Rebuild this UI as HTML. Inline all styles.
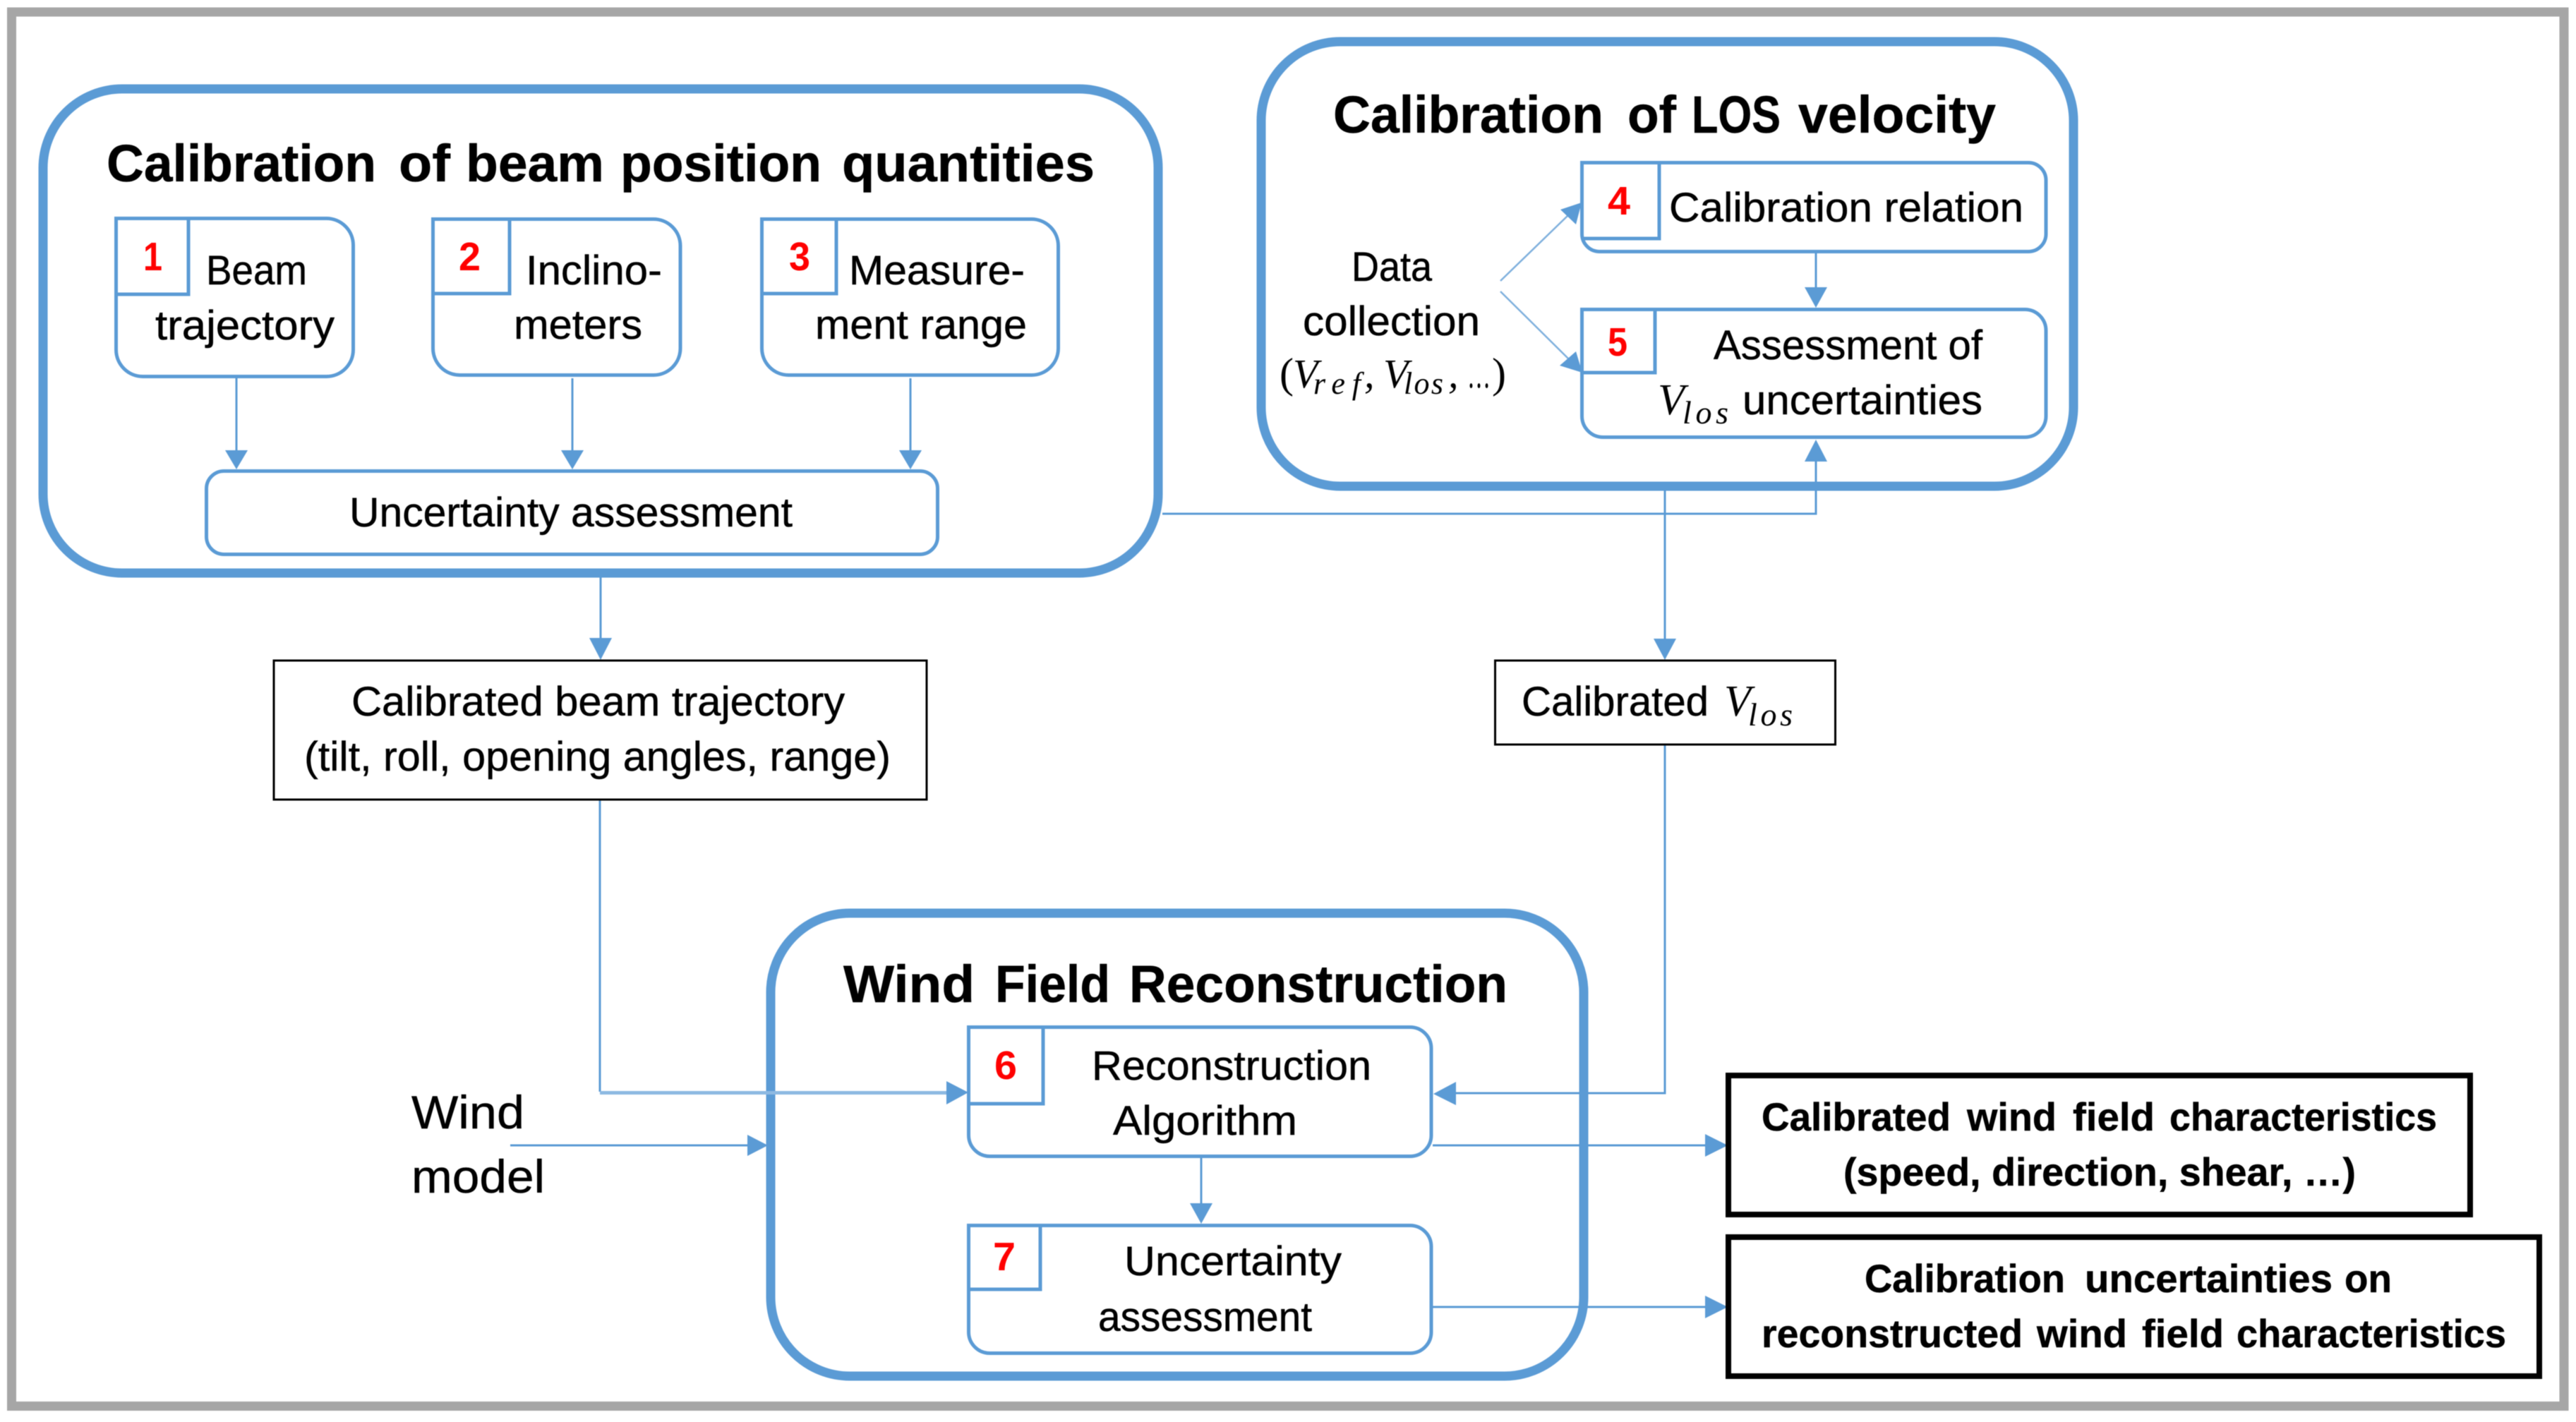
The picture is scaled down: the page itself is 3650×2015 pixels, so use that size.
<!DOCTYPE html>
<html><head><meta charset="utf-8"><style>
html,body{margin:0;padding:0;background:#fff;width:3650px;height:2015px;overflow:hidden}
svg{display:block;filter:blur(0.6px)}
text{font-family:"Liberation Sans",sans-serif;fill:#000;font-size:58px;stroke:#000;stroke-width:0.5px}
.t{font-weight:bold;font-size:74px}
.o{font-weight:bold;font-size:56px}
.n{font-weight:bold;font-size:57px;fill:#f00;stroke:none}
.m{font-family:"Liberation Serif",serif;font-style:italic;stroke-width:0}
.big{fill:#fff;stroke:#5B9BD5;stroke-width:13}
.sm{fill:#fff;stroke:#5B9BD5;stroke-width:5}
.c{fill:none;stroke:#5B9BD5;stroke-width:3}
.a{fill:#5B9BD5;stroke:none}
.k{fill:#fff;stroke:#000}
</style></head><body>
<svg xmlns="http://www.w3.org/2000/svg" width="3650" height="2015" viewBox="0 0 3650 2015">
<rect width="3650" height="2015" fill="#fff"/>
<rect x="16.5" y="17" width="3616.5" height="1975.5" fill="#fff" stroke="#A6A6A6" stroke-width="13"/>

<!-- big containers -->
<rect class="big" x="61" y="126" width="1580" height="686" rx="112" ry="112"/>
<rect class="big" x="1787" y="59" width="1151" height="630" rx="112" ry="112"/>
<rect class="big" x="1092" y="1294" width="1152" height="656" rx="112" ry="112"/>

<!-- connectors -->
<path class="c" d="M335 536V640M811 536V640M1290 536V640"/>
<path class="c" d="M851 818V906"/>
<path class="c" d="M1647 728H2573V652"/>
<path class="c" d="M2359 695V907"/>
<path class="c" d="M2359 1056V1549H2061"/>
<path class="c" d="M850 1134V1547"/>
<path d="M850 1548.5H1343" fill="none" stroke="#8DB9E2" stroke-width="5"/>
<path class="c" d="M2573 359V409"/>
<path d="M2126 398L2222 305" fill="none" stroke="#7FB0DD" stroke-width="2.5"/>
<path d="M2126 413L2222 508" fill="none" stroke="#7FB0DD" stroke-width="2.5"/>
<path class="c" d="M1702 1641V1707"/>
<path class="c" d="M723 1623H1061"/>
<path class="c" d="M2030 1623H2418"/>
<path class="c" d="M2030 1852H2418"/>

<!-- arrowheads -->
<path class="a" d="M319 638H351L335 665Z"/>
<path class="a" d="M795 638H827L811 665Z"/>
<path class="a" d="M1274 638H1306L1290 665Z"/>
<path class="a" d="M835 904H867L851 935Z"/>
<path class="a" d="M2557 654H2589L2573 623Z"/>
<path class="a" d="M2343 905H2375L2359 935Z"/>
<path class="a" d="M2063 1533V1566L2031 1550Z"/>
<path class="a" d="M1341 1532V1565L1372 1548Z"/>
<path class="a" d="M2557 407H2589L2573 436Z"/>
<path class="a" d="M2211 297L2241 287L2233 318Z"/>
<path class="a" d="M2210 518L2233 498L2242 528Z"/>
<path class="a" d="M1686 1705H1718L1702 1734Z"/>
<path class="a" d="M1059 1608V1638L1088 1623Z"/>
<path class="a" d="M2416 1607V1639L2448 1623Z"/>
<path class="a" d="M2416 1836V1868L2448 1852Z"/>

<!-- small boxes -->
<path class="sm" d="M164.5 309.5H462.5a38 38 0 0 1 38 38V495.5a38 38 0 0 1-38 38H202.5a38 38 0 0 1-38-38Z"/>
<path class="sm" d="M164.5 417H267V309.5" fill="none"/>
<path class="sm" d="M613.5 310.5H926a38 38 0 0 1 38 38V493.5a38 38 0 0 1-38 38H651.5a38 38 0 0 1-38-38Z"/>
<path class="sm" d="M613.5 416H722V310.5" fill="none"/>
<path class="sm" d="M1079.5 310.5H1461.5a38 38 0 0 1 38 38V493.5a38 38 0 0 1-38 38H1117.5a38 38 0 0 1-38-38Z"/>
<path class="sm" d="M1079.5 416H1185V310.5" fill="none"/>
<rect class="sm" x="292.5" y="667.5" width="1036" height="118" rx="25" ry="25"/>

<path class="sm" d="M2241.5 230.5H2874a25 25 0 0 1 25 25V331.5a25 25 0 0 1-25 25H2266.5a25 25 0 0 1-25-25Z"/>
<path class="sm" d="M2241.5 338H2351V230.5" fill="none"/>
<path class="sm" d="M2241.5 438.5H2869a30 30 0 0 1 30 30V589.5a30 30 0 0 1-30 30H2271.5a30 30 0 0 1-30-30Z"/>
<path class="sm" d="M2241.5 528H2345V438.5" fill="none"/>

<path class="sm" d="M1372.5 1455.5H1998a30 30 0 0 1 30 30V1608.5a30 30 0 0 1-30 30H1402.5a30 30 0 0 1-30-30Z"/>
<path class="sm" d="M1372.5 1564H1478V1455.5" fill="none"/>
<path class="sm" d="M1372.5 1736.5H1998a30 30 0 0 1 30 30V1887.5a30 30 0 0 1-30 30H1402.5a30 30 0 0 1-30-30Z"/>
<path class="sm" d="M1372.5 1827H1474V1736.5" fill="none"/>

<!-- black boxes -->
<rect class="k" x="388" y="936" width="925" height="197" stroke-width="3"/>
<rect class="k" x="2118.5" y="936" width="482" height="119" stroke-width="3"/>
<rect class="k" x="2449" y="1524" width="1051" height="197" stroke-width="8"/>
<rect class="k" x="2449" y="1753" width="1149" height="197" stroke-width="8"/>

<!-- titles -->
<text class="t" x="151" y="257" textLength="382" lengthAdjust="spacingAndGlyphs">Calibration</text>
<text class="t" x="565" y="257" textLength="73" lengthAdjust="spacingAndGlyphs">of</text>
<text class="t" x="660" y="257" textLength="196" lengthAdjust="spacingAndGlyphs">beam</text>
<text class="t" x="879" y="257" textLength="285" lengthAdjust="spacingAndGlyphs">position</text>
<text class="t" x="1193" y="257" textLength="358" lengthAdjust="spacingAndGlyphs">quantities</text>

<text class="t" x="1889" y="188" textLength="383" lengthAdjust="spacingAndGlyphs">Calibration</text>
<text class="t" x="2306" y="188" textLength="69" lengthAdjust="spacingAndGlyphs">of</text>
<text class="t" x="2397" y="188" textLength="126" lengthAdjust="spacingAndGlyphs">LOS</text>
<text class="t" x="2548" y="188" textLength="280" lengthAdjust="spacingAndGlyphs">velocity</text>

<text class="t" x="1195" y="1420" textLength="186" lengthAdjust="spacingAndGlyphs">Wind</text>
<text class="t" x="1410" y="1420" textLength="163" lengthAdjust="spacingAndGlyphs">Field</text>
<text class="t" x="1600" y="1420" textLength="536" lengthAdjust="spacingAndGlyphs">Reconstruction</text>

<!-- numbers -->
<text class="n" x="203" y="383" textLength="27" lengthAdjust="spacingAndGlyphs">1</text>
<text class="n" x="650" y="383" textLength="31" lengthAdjust="spacingAndGlyphs">2</text>
<text class="n" x="1118" y="383" textLength="30" lengthAdjust="spacingAndGlyphs">3</text>
<text class="n" x="2278" y="304" textLength="32" lengthAdjust="spacingAndGlyphs">4</text>
<text class="n" x="2278" y="504" textLength="28" lengthAdjust="spacingAndGlyphs">5</text>
<text class="n" x="1409" y="1529" textLength="32" lengthAdjust="spacingAndGlyphs">6</text>
<text class="n" x="1407" y="1800" textLength="32" lengthAdjust="spacingAndGlyphs">7</text>

<!-- labels -->
<text x="292" y="403" textLength="143" lengthAdjust="spacingAndGlyphs">Beam</text>
<text x="220" y="481" textLength="254" lengthAdjust="spacingAndGlyphs">trajectory</text>
<text x="745" y="403" textLength="193" lengthAdjust="spacingAndGlyphs">Inclino-</text>
<text x="728" y="480" textLength="182" lengthAdjust="spacingAndGlyphs">meters</text>
<text x="1203" y="403" textLength="249" lengthAdjust="spacingAndGlyphs">Measure-</text>
<text x="1155" y="480" textLength="300" lengthAdjust="spacingAndGlyphs">ment range</text>
<text x="495" y="746" textLength="628" lengthAdjust="spacingAndGlyphs">Uncertainty assessment</text>
<text x="498" y="1014" textLength="699" lengthAdjust="spacingAndGlyphs">Calibrated beam trajectory</text>
<text x="431" y="1092" textLength="831" lengthAdjust="spacingAndGlyphs">(tilt, roll, opening angles, range)</text>

<text x="1915" y="398" textLength="114" lengthAdjust="spacingAndGlyphs">Data</text>
<text x="1846" y="475" textLength="251" lengthAdjust="spacingAndGlyphs">collection</text>
<text class="m" x="1813" y="549" style="font-size:60px;font-style:normal">(</text>
<text class="m" x="1832" y="549" style="font-size:58px">V</text>
<text class="m" x="1861" y="558" style="font-size:44px" textLength="67" lengthAdjust="spacing">ref</text>
<text class="m" x="1933" y="549" style="font-size:58px">,</text>
<text class="m" x="1960" y="549" style="font-size:58px">V</text>
<text class="m" x="1989" y="558" style="font-size:44px" textLength="56" lengthAdjust="spacing">los</text>
<text class="m" x="2052" y="549" style="font-size:58px">,</text>
<text class="m" x="2079" y="549" style="font-size:58px;font-style:normal" textLength="33" lengthAdjust="spacingAndGlyphs">…</text>
<text class="m" x="2114" y="549" style="font-size:60px;font-style:normal">)</text>

<text x="2365" y="314" textLength="502" lengthAdjust="spacingAndGlyphs">Calibration relation</text>
<text x="2428" y="509" textLength="381" lengthAdjust="spacingAndGlyphs">Assessment of</text>
<text class="m" x="2349" y="587" style="font-size:62px">V</text>
<text class="m" x="2384" y="600" style="font-size:46px" textLength="65" lengthAdjust="spacing">los</text>
<text x="2469" y="587" textLength="340" lengthAdjust="spacingAndGlyphs">uncertainties</text>

<text x="2156" y="1014" textLength="265" lengthAdjust="spacingAndGlyphs">Calibrated</text>
<text class="m" x="2443" y="1014" style="font-size:62px">V</text>
<text class="m" x="2477" y="1028" style="font-size:46px" textLength="63" lengthAdjust="spacing">los</text>

<text x="1547" y="1530" textLength="396" lengthAdjust="spacingAndGlyphs">Reconstruction</text>
<text x="1577" y="1608" textLength="261" lengthAdjust="spacingAndGlyphs">Algorithm</text>
<text x="1593" y="1807" textLength="308" lengthAdjust="spacingAndGlyphs">Uncertainty</text>
<text x="1556" y="1886" textLength="303" lengthAdjust="spacingAndGlyphs">assessment</text>

<text x="583" y="1599" style="font-size:66px" textLength="160" lengthAdjust="spacingAndGlyphs">Wind</text>
<text x="583" y="1690" style="font-size:66px" textLength="189" lengthAdjust="spacingAndGlyphs">model</text>

<text class="o" x="2496" y="1602" textLength="268" lengthAdjust="spacingAndGlyphs">Calibrated</text>
<text class="o" x="2787" y="1602" textLength="127" lengthAdjust="spacingAndGlyphs">wind</text>
<text class="o" x="2937" y="1602" textLength="116" lengthAdjust="spacingAndGlyphs">field</text>
<text class="o" x="3074" y="1602" textLength="379" lengthAdjust="spacingAndGlyphs">characteristics</text>
<text class="o" x="2612" y="1680" textLength="726" lengthAdjust="spacingAndGlyphs">(speed, direction, shear, …)</text>
<text class="o" x="2642" y="1831" textLength="284" lengthAdjust="spacingAndGlyphs">Calibration</text>
<text class="o" x="2954" y="1831" textLength="351" lengthAdjust="spacingAndGlyphs">uncertainties</text>
<text class="o" x="3322" y="1831" textLength="67" lengthAdjust="spacingAndGlyphs">on</text>
<text class="o" x="2496" y="1909" textLength="370" lengthAdjust="spacingAndGlyphs">reconstructed</text>
<text class="o" x="2886" y="1909" textLength="128" lengthAdjust="spacingAndGlyphs">wind</text>
<text class="o" x="3035" y="1909" textLength="116" lengthAdjust="spacingAndGlyphs">field</text>
<text class="o" x="3169" y="1909" textLength="382" lengthAdjust="spacingAndGlyphs">characteristics</text>
</svg>
</body></html>
